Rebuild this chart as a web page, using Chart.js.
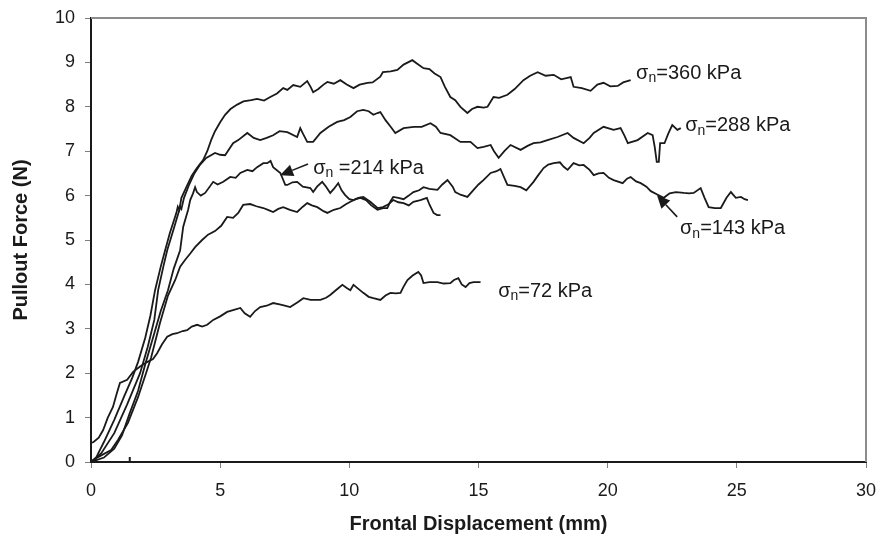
<!DOCTYPE html>
<html>
<head>
<meta charset="utf-8">
<script src="https://cdn.jsdelivr.net/npm/chart.js@4.4.1/dist/chart.umd.min.js"></script>
<style>
html,body{margin:0;padding:0;background:#fff;}
#wrap{width:881px;height:540px;}
</style>
</head>
<body>
<div id="wrap"><canvas id="c" width="881" height="540"></canvas></div>
<script>
// ---- data ----
const xTicks = [0, 5, 10, 15, 20, 25, 30];
const yTicks = [0, 1, 2, 3, 4, 5, 6, 7, 8, 9, 10];

const s360x = [0,0.2,0.5,0.9,1.3,1.6,1.82,2.1,2.3,2.48,2.7,2.87,3.05,3.3,3.36,3.42,3.5,3.7,3.9,4.1,4.34,4.5,4.65,4.8,5.0,5.19,5.4,5.66,5.9,6.2,6.43,6.7,6.94,7.2,7.44,7.6,7.83,8.1,8.37,8.5,8.6,8.8,9.0,9.15,9.4,9.65,9.9,10.16,10.4,10.7,10.9,11.2,11.3,11.6,11.86,12.1,12.44,12.6,12.87,13.1,13.3,13.53,13.7,13.91,14.1,14.3,14.57,14.75,14.96,15.2,15.35,15.58,15.8,16.12,16.4,16.74,17.0,17.29,17.6,17.91,18.2,18.57,18.68,19.0,19.34,19.6,19.84,20.1,20.39,20.6,20.89];
const s360y = [0,0.1,0.45,0.95,1.5,1.9,2.25,2.8,3.3,3.87,4.4,4.77,5.15,5.6,5.75,5.68,5.95,6.2,6.45,6.62,6.8,7.0,7.25,7.45,7.65,7.82,7.95,8.05,8.12,8.15,8.18,8.14,8.22,8.3,8.42,8.38,8.49,8.45,8.58,8.45,8.33,8.4,8.5,8.56,8.52,8.6,8.5,8.42,8.5,8.54,8.55,8.68,8.78,8.8,8.83,8.95,9.05,8.98,8.87,8.85,8.75,8.67,8.45,8.22,8.15,8.0,7.86,7.95,8.0,7.98,8.0,8.22,8.2,8.27,8.4,8.6,8.7,8.78,8.7,8.72,8.62,8.67,8.45,8.42,8.36,8.5,8.54,8.46,8.47,8.55,8.6];

const s288x = [0,0.4,0.9,1.4,1.9,2.2,2.45,2.6,2.8,2.95,3.2,3.38,3.45,3.5,3.6,3.8,4.0,4.2,4.46,4.8,5.0,5.19,5.5,5.7,6.05,6.3,6.55,6.8,7.05,7.3,7.6,7.98,8.1,8.2,8.37,8.6,8.88,9.2,9.53,9.8,10.04,10.3,10.54,10.75,10.93,11.09,11.2,11.4,11.6,11.78,12.1,12.5,12.8,13.14,13.35,13.53,13.91,14.3,14.69,14.96,15.2,15.47,15.6,15.78,16.0,16.24,16.63,16.9,17.13,17.4,17.67,18.06,18.45,18.68,19.07,19.3,19.46,19.84,20.23,20.5,20.65,20.78,21.16,21.55,21.74,21.82,21.9,21.98,22.03,22.2,22.35,22.5,22.7,22.83];
const s288y = [0,0.2,0.65,1.3,2.0,2.6,3.2,3.87,4.4,4.77,5.25,5.6,5.75,5.7,5.95,6.25,6.5,6.68,6.85,6.96,6.92,6.91,7.18,7.25,7.41,7.3,7.25,7.3,7.36,7.45,7.43,7.32,7.52,7.4,7.21,7.21,7.41,7.55,7.66,7.7,7.77,7.9,7.93,7.9,7.82,7.86,7.88,7.7,7.55,7.41,7.52,7.55,7.55,7.63,7.55,7.41,7.36,7.21,7.21,7.07,7.1,7.14,7.0,6.85,7.0,7.14,7.03,7.12,7.18,7.2,7.25,7.32,7.41,7.3,7.18,7.3,7.41,7.55,7.48,7.52,7.35,7.18,7.25,7.41,7.36,7.1,6.76,6.76,7.18,7.18,7.4,7.59,7.48,7.52];

const s214x = [0,0.5,0.9,1.2,1.5,1.82,2.1,2.4,2.7,2.98,3.2,3.45,3.57,3.76,3.84,3.95,4.03,4.1,4.25,4.42,4.73,4.9,5.12,5.39,5.6,5.78,6.05,6.25,6.43,6.67,6.82,6.95,7.05,7.33,7.52,7.6,7.8,7.98,8.2,8.49,8.6,8.75,8.95,9.1,9.26,9.4,9.57,9.7,9.84,10.0,10.16,10.35,10.54,10.81,11.09,11.3,11.5,11.7,11.9,12.1,12.3,12.48,12.75,13.0,13.1,13.26,13.4,13.53];
const s214y = [0,0.1,0.3,0.6,1.1,1.6,2.2,2.8,3.4,3.87,4.35,4.77,5.3,5.68,5.9,6.05,6.19,6.08,6.0,6.06,6.31,6.25,6.31,6.42,6.4,6.51,6.58,6.55,6.64,6.73,6.73,6.78,6.64,6.51,6.24,6.24,6.3,6.31,6.2,6.17,6.08,6.2,6.31,6.2,6.06,6.15,6.28,6.12,6.01,5.92,5.9,5.95,5.97,5.86,5.72,5.74,5.8,5.9,5.85,5.83,5.78,5.86,5.9,5.95,5.8,5.61,5.56,5.56];

const s143x = [0,0.27,0.78,1.05,1.43,1.82,2.13,2.33,2.67,2.98,3.26,3.45,3.64,3.85,4.03,4.3,4.53,4.8,5.04,5.27,5.5,5.7,5.89,6.16,6.4,6.67,6.85,7.05,7.25,7.44,7.7,7.98,8.2,8.37,8.55,8.76,9.0,9.15,9.4,9.65,9.85,10.04,10.25,10.43,10.65,10.85,11.09,11.3,11.47,11.6,11.7,11.9,12.1,12.3,12.48,12.7,12.87,13.1,13.41,13.6,13.8,14.0,14.1,14.3,14.57,14.81,15.0,15.19,15.47,15.7,15.85,16.0,16.12,16.4,16.63,16.85,17.13,17.3,17.52,17.7,17.91,18.15,18.3,18.45,18.68,18.9,19.07,19.3,19.46,19.65,19.84,20.05,20.23,20.58,20.75,20.89,21.1,21.28,21.5,21.67,21.9,22.17,22.4,22.64,22.95,23.15,23.33,23.6,23.75,23.91,24.15,24.38,24.6,24.77,24.96,25.16,25.3,25.43];
const s143y = [0,0.11,0.27,0.5,0.88,1.46,2.0,2.36,3.13,3.75,4.1,4.4,4.55,4.7,4.84,5.0,5.12,5.2,5.32,5.52,5.5,5.61,5.79,5.81,5.76,5.72,5.68,5.63,5.7,5.74,5.68,5.63,5.75,5.83,5.78,5.74,5.65,5.61,5.68,5.72,5.8,5.86,5.92,5.95,5.9,5.78,5.68,5.72,5.72,5.88,5.97,5.95,5.92,6.0,6.08,6.12,6.19,6.15,6.13,6.25,6.35,6.2,6.08,6.02,5.97,6.13,6.25,6.35,6.51,6.55,6.6,6.4,6.24,6.22,6.19,6.12,6.31,6.45,6.62,6.7,6.73,6.75,6.65,6.58,6.73,6.68,6.69,6.58,6.46,6.5,6.51,6.4,6.35,6.28,6.38,6.42,6.32,6.28,6.2,6.1,6.03,5.95,6.05,6.08,6.06,6.05,6.06,6.17,5.95,5.74,5.72,5.72,5.95,6.08,5.95,5.97,5.92,5.9];

const s72x = [0,0.1,0.3,0.47,0.65,0.85,1.0,1.12,1.4,1.63,1.9,2.17,2.4,2.56,2.75,2.95,3.15,3.33,3.55,3.72,3.9,4.11,4.3,4.5,4.73,5.0,5.27,5.5,5.78,5.95,6.16,6.35,6.55,6.8,7.05,7.3,7.5,7.71,8.0,8.22,8.5,8.88,9.1,9.26,9.5,9.73,9.9,10.04,10.16,10.35,10.54,10.75,10.93,11.2,11.4,11.59,11.8,11.98,12.1,12.25,12.45,12.67,12.78,12.87,13.1,13.41,13.65,13.91,14.05,14.22,14.35,14.5,14.65,14.81,15.08];
const s72y = [0.43,0.45,0.55,0.72,1.0,1.24,1.55,1.78,1.85,2.03,2.15,2.25,2.32,2.45,2.65,2.82,2.88,2.9,2.95,2.97,3.05,3.09,3.05,3.09,3.2,3.28,3.38,3.42,3.47,3.35,3.27,3.4,3.49,3.52,3.58,3.55,3.52,3.49,3.6,3.69,3.65,3.65,3.7,3.76,3.88,3.99,3.92,3.87,3.99,3.9,3.81,3.72,3.69,3.65,3.75,3.81,3.8,3.81,3.95,4.1,4.2,4.28,4.2,4.03,4.05,4.05,4.02,4.03,4.1,4.14,4.0,3.94,4.03,4.05,4.05];

const seriesNames = ['360 kPa', '288 kPa', '214 kPa', '143 kPa', '72 kPa'];
const seriesX = [s360x, s288x, s214x, s143x, s72x];
const seriesY = [s360y, s288y, s214y, s143y, s72y];

// ---- annotation texts (placed in data units) ----
const labelPlacements = [
  {sub: 'n', rest: '=360 kPa', x: 21.1, y: 8.76},
  {sub: 'n', rest: '=288 kPa', x: 23.0, y: 7.57},
  {sub: 'n', rest: ' =214 kPa', x: 8.6, y: 6.62},
  {sub: 'n', rest: '=143 kPa', x: 22.8, y: 5.25},
  {sub: 'n', rest: '=72 kPa', x: 15.76, y: 3.85}
];
const arrowPlacements = [
  {fromX: 8.4, fromY: 6.71, toX: 7.32, toY: 6.46},
  {fromX: 22.69, fromY: 5.52, toX: 21.91, toY: 6.01}
];
const strayTickAt = 1.5;

function toPoints(xs, ys) { return xs.map((x, i) => ({x: x, y: ys[i]})); }

const datasets = seriesNames.map((name, i) => ({
  label: name,
  data: toPoints(seriesX[i], seriesY[i]),
  showLine: true,
  borderColor: '#1a1a1a',
  borderWidth: 1.8,
  pointRadius: 0,
  tension: 0,
  fill: false
}));

const frameAndNotes = {
  id: 'frameAndNotes',
  afterDraw(chart) {
    const ctx = chart.ctx, a = chart.chartArea;
    const xs = chart.scales.x, ys = chart.scales.y;
    ctx.save();
    // grey top and right frame
    ctx.strokeStyle = '#8c8c8c';
    ctx.lineWidth = 2;
    ctx.beginPath();
    ctx.moveTo(a.left, a.top);
    ctx.lineTo(a.right, a.top);
    ctx.lineTo(a.right, a.bottom);
    ctx.stroke();
    // small mark on the x axis
    const sx = xs.getPixelForValue(strayTickAt);
    ctx.strokeStyle = '#1a1a1a';
    ctx.lineWidth = 2;
    ctx.beginPath();
    ctx.moveTo(sx, a.bottom - 5);
    ctx.lineTo(sx, a.bottom + 1);
    ctx.stroke();
    // labels
    ctx.fillStyle = '#1a1a1a';
    ctx.textBaseline = 'middle';
    ctx.textAlign = 'left';
    labelPlacements.forEach(l => {
      let px = xs.getPixelForValue(l.x);
      const py = ys.getPixelForValue(l.y);
      ctx.font = '20px "Liberation Sans", Arial, sans-serif';
      ctx.fillText('\u03c3', px, py);
      px += ctx.measureText('\u03c3').width;
      ctx.font = '14px "Liberation Sans", Arial, sans-serif';
      ctx.fillText(l.sub, px, py + 5);
      px += ctx.measureText(l.sub).width;
      ctx.font = '20px "Liberation Sans", Arial, sans-serif';
      ctx.fillText(l.rest, px, py);
    });
    // arrows
    ctx.strokeStyle = '#1a1a1a';
    ctx.lineWidth = 1.6;
    arrowPlacements.forEach(ar => {
      const x1 = xs.getPixelForValue(ar.fromX), y1 = ys.getPixelForValue(ar.fromY);
      const x2 = xs.getPixelForValue(ar.toX), y2 = ys.getPixelForValue(ar.toY);
      const ang = Math.atan2(y2 - y1, x2 - x1);
      const hl = 13, hw = 6;
      const bx = x2 - hl * Math.cos(ang), by = y2 - hl * Math.sin(ang);
      ctx.beginPath();
      ctx.moveTo(x1, y1);
      ctx.lineTo(bx, by);
      ctx.stroke();
      ctx.beginPath();
      ctx.moveTo(x2, y2);
      ctx.lineTo(bx + hw * Math.sin(ang), by - hw * Math.cos(ang));
      ctx.lineTo(bx - hw * Math.sin(ang), by + hw * Math.cos(ang));
      ctx.closePath();
      ctx.fill();
    });
    ctx.restore();
  }
};

const tickFont = {family: '"Liberation Sans Narrow", "Liberation Sans", Arial, sans-serif', size: 18};
const titleFont = {family: '"Liberation Sans", Arial, sans-serif', size: 20, weight: 'bold'};

new Chart(document.getElementById('c'), {
  type: 'scatter',
  data: {datasets: datasets},
  options: {
    responsive: false,
    animation: false,
    events: [],
    layout: {padding: {top: 18, right: 15, left: 0, bottom: 0}},
    plugins: {legend: {display: false}, tooltip: {enabled: false}},
    scales: {
      x: {
        type: 'linear',
        min: 0, max: 30,
        afterBuildTicks: s => { s.ticks = xTicks.map(v => ({value: v})); },
        afterFit: s => { s.height = 78; s.paddingLeft = 0; s.paddingRight = 0; },
        ticks: {font: tickFont, color: '#1a1a1a', padding: 12, maxRotation: 0},
        grid: {drawOnChartArea: false, drawTicks: true, tickLength: 6, color: '#808080', lineWidth: 1},
        border: {display: true, color: '#1a1a1a', width: 2},
        title: {display: true, text: 'Frontal Displacement (mm)', font: titleFont, color: '#1a1a1a', padding: {top: 0, bottom: 4}}
      },
      y: {
        type: 'linear',
        min: 0, max: 10,
        afterBuildTicks: s => { s.ticks = yTicks.map(v => ({value: v})); },
        afterFit: s => { s.width = 91; s.paddingTop = 0; s.paddingBottom = 0; },
        ticks: {font: tickFont, color: '#1a1a1a', padding: 10},
        grid: {drawOnChartArea: false, drawTicks: true, tickLength: 6, color: '#808080', lineWidth: 1},
        border: {display: true, color: '#1a1a1a', width: 2},
        title: {display: true, text: 'Pullout Force (N)', font: titleFont, color: '#1a1a1a', padding: {top: 9, bottom: 0}}
      }
    }
  },
  plugins: [frameAndNotes]
});
</script>
</body>
</html>
